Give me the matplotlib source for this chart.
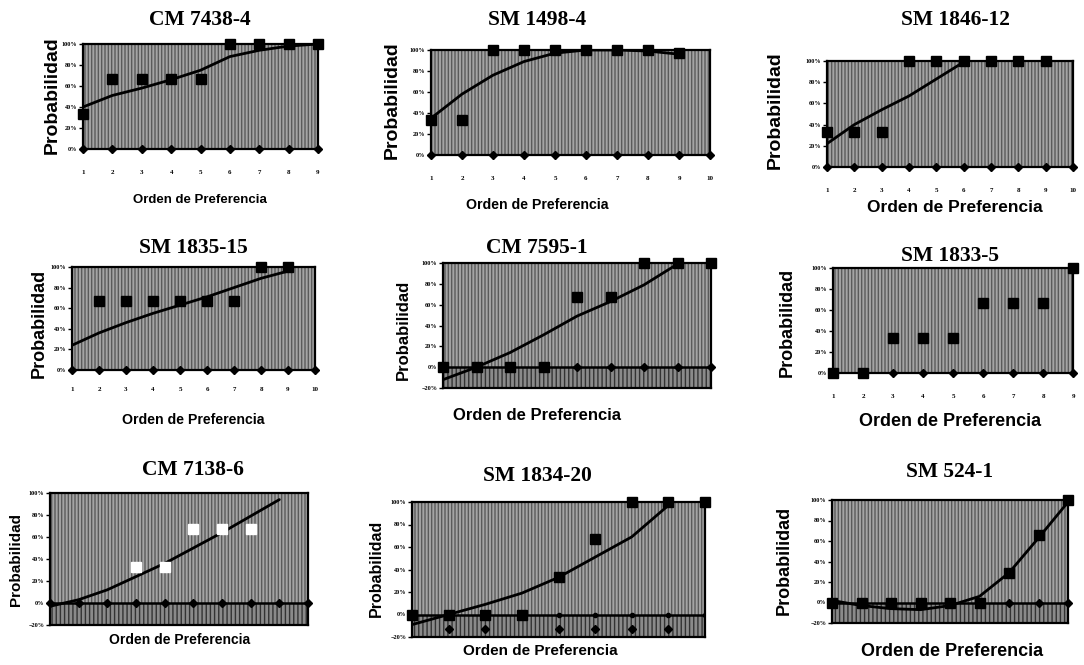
import matplotlib.pyplot as plt
import numpy as np
from matplotlib.patches import Rectangle
from matplotlib.ticker import PercentFormatter

W, H = 1084, 665

titles = ["CM 7438-4", "SM 1498-4", "SM 1846-12",
          "SM 1835-15", "CM 7595-1", "SM 1833-5",
          "CM 7138-6", "SM 1834-20", "SM 524-1"]

# observed probability (squares) per order of preference
obs_7438 = [0.33, 0.67, 0.67, 0.67, 0.67, 1.0, 1.0, 1.0, 1.0]
obs_1498 = [0.33, 0.33, 1.0, 1.0, 1.0, 1.0, 1.0, 1.0, 0.97]
obs_1846 = [0.33, 0.33, 0.33, 1.0, 1.0, 1.0, 1.0, 1.0, 1.0]
obs_1835 = [None, 0.67, 0.67, 0.67, 0.67, 0.67, 0.67, 1.0, 1.0]
obs_7595 = [0.0, 0.0, 0.0, 0.0, 0.67, 0.67, 1.0, 1.0, 1.0]
obs_1833 = [0.0, 0.0, 0.33, 0.33, 0.33, 0.67, 0.67, 0.67, 1.0]
obs_7138 = [None, None, None, 0.33, 0.33, 0.67, 0.67, 0.67, None, None]
obs_1834 = [0.0, 0.0, 0.0, 0.0, 0.33, 0.67, 1.0, 1.0, 1.0]
obs_524 = [0.0, 0.0, 0.0, 0.0, 0.0, 0.0, 0.29, 0.66, 1.0]

# second series (diamonds)
base_7438 = [0.0] * 9
base_1498 = [0.0] * 10
base_1846 = [0.0] * 10
base_1835 = [0.0] * 10
base_7595 = [0.0] * 9
base_1833 = [0.0] * 9
base_7138 = [0.0] * 10
base_1834 = [None, -0.13, -0.13, None, -0.13, -0.13, -0.13, -0.13, None]
base_524 = [0.0] * 9

# trend lines read at each order
trend_7438 = [0.40, 0.51, 0.58, 0.66, 0.75, 0.88, 0.94, 0.98, 1.0]
trend_1498 = [0.35, 0.58, 0.76, 0.89, 0.97, 1.0, 1.0, 0.99, 0.96]
trend_1846 = [0.22, 0.40, 0.54, 0.67, 0.83, 0.99]
trend_1835 = [0.24, 0.36, 0.46, 0.55, 0.63, 0.71, 0.80, 0.89, 0.96]
trend_7595 = [-0.12, 0.0, 0.14, 0.31, 0.49, 0.63, 0.79, 0.99]
trend_1833 = []
trend_7138 = [-0.03, 0.03, 0.12, 0.24, 0.36, 0.50, 0.64, 0.79, 0.94]
trend_1834 = [-0.09, 0.0, 0.09, 0.19, 0.33, 0.51, 0.69, 0.97]
trend_524 = [0.02, -0.03, -0.06, -0.07, -0.03, 0.06, 0.29, 0.63, 0.98]

observed = [obs_7438, obs_1498, obs_1846, obs_1835, obs_7595, obs_1833,
            obs_7138, obs_1834, obs_524]
bases = [base_7438, base_1498, base_1846, base_1835, base_7595, base_1833,
         base_7138, base_1834, base_524]
trends = [trend_7438, trend_1498, trend_1846, trend_1835, trend_7595,
          trend_1833, trend_7138, trend_1834, trend_524]
n_orders = [9, 10, 10, 10, 9, 9, 10, 9, 9]
negative = [False, False, False, False, True, False, True, True, True]
show_xticks = [True, True, True, True, False, True, False, False, False]

# plot boxes in pixels: left, top, right, bottom
boxes = [(83, 44, 318, 149), (431, 50, 710, 155), (827, 61, 1073, 167),
         (72, 267, 315, 370), (443, 263, 711, 388), (833, 268, 1073, 373),
         (50, 493, 308, 625), (412, 502, 705, 637), (832, 500, 1068, 623)]
title_pos = [(200, 20), (537, 20), (955, 20), (193, 248), (537, 248),
             (950, 256), (193, 470), (537, 476), (950, 472)]
title_size = 15.5
ylab_pos = [(52, 95), (392, 100), (775, 110), (39, 323), (403, 330),
            (787, 322), (16, 560), (376, 568), (784, 560)]
ylab_size = [14, 14, 14, 13, 12, 13, 11, 11.5, 13]
xlab_pos = [(200, 200), (537, 205), (955, 208), (193, 420), (537, 415),
            (950, 421), (180, 640), (540, 651), (952, 652)]
xlab_size = [9.5, 10.2, 12.5, 10.2, 12, 13, 10, 11, 13]


def fx(x):
    return x / W


def fy(y):
    return 1 - y / H


fig = plt.figure(figsize=(W / 100, H / 100), dpi=100)
fig.patch.set_facecolor("white")

for i in range(9):
    l, t, r, b = boxes[i]
    ax = fig.add_axes([fx(l), fy(b), (r - l) / W, (b - t) / H])
    n = n_orders[i]
    x = np.arange(1, n + 1)
    ax.set_facecolor("#a4a4a4")
    ax.add_patch(Rectangle((0, 0), 1, 1, transform=ax.transAxes, fill=False,
                           hatch="|||||", edgecolor="#5a5a5a", lw=0,
                           zorder=0.5))
    ymin = -0.2 if negative[i] else 0.0
    if negative[i]:
        ax.axhspan(-0.2, 0, facecolor="#8a8a8a", hatch="||||",
                   edgecolor="#333333", lw=0, zorder=0.6)
        ax.axhline(0, color="black", lw=1.8, zorder=2)
    ax.set_xlim(1, n)
    ax.set_ylim(ymin, 1.0)

    ob = observed[i]
    ox = [xi for xi, v in zip(x, ob) if v is not None]
    oy = [v for v in ob if v is not None]
    sq_col = "white" if i == 6 else "black"
    ax.plot(ox, oy, ls="none", marker="s", ms=6.5, color=sq_col,
            mec=sq_col, zorder=4, clip_on=False)

    bs = bases[i]
    bx = [xi for xi, v in zip(x, bs) if v is not None]
    by = [v for v in bs if v is not None]
    ax.plot(bx, by, ls="none", marker="D", ms=4.2, color="black",
            zorder=4, clip_on=False)
    if i == 7:
        ax.plot(x[4:], [0.0] * (n - 4), ls="none", marker="o", ms=3,
                color="black", zorder=4)

    tr = trends[i]
    if tr:
        ax.plot(x[:len(tr)], tr, color="black", lw=2.0, zorder=3,
                solid_capstyle="round")

    ticks = np.arange(ymin, 1.0001, 0.2)
    ax.set_yticks(ticks)
    ax.yaxis.set_major_formatter(PercentFormatter(1.0, decimals=0))
    ax.set_xticks(x)
    ax.tick_params(axis="y", labelsize=4.5, length=3, width=1, pad=1)
    if show_xticks[i]:
        ax.tick_params(axis="x", labelsize=5, length=3, width=1,
                       pad=12 if i < 3 or i == 5 else 9)
    else:
        ax.tick_params(axis="x", labelbottom=False, length=0)
    for lab in ax.get_yticklabels() + ax.get_xticklabels():
        lab.set_fontweight("bold")
        lab.set_family("Liberation Serif")
    for sp in ax.spines.values():
        sp.set_linewidth(1.6)
        sp.set_color("black")

    tx, ty = title_pos[i]
    fig.text(fx(tx), fy(ty), titles[i], ha="center", va="center",
             fontsize=title_size, fontweight="bold", family="Liberation Serif")
    yx, yy = ylab_pos[i]
    fig.text(fx(yx), fy(yy), "Probabilidad", ha="center", va="center",
             rotation=90, fontsize=ylab_size[i], fontweight="bold",
             family="Liberation Sans")
    xx, xy = xlab_pos[i]
    fig.text(fx(xx), fy(xy), "Orden de Preferencia", ha="center",
             va="center", fontsize=xlab_size[i], fontweight="bold",
             family="Liberation Sans")

fig.savefig("out.png", dpi=100, facecolor="white")
